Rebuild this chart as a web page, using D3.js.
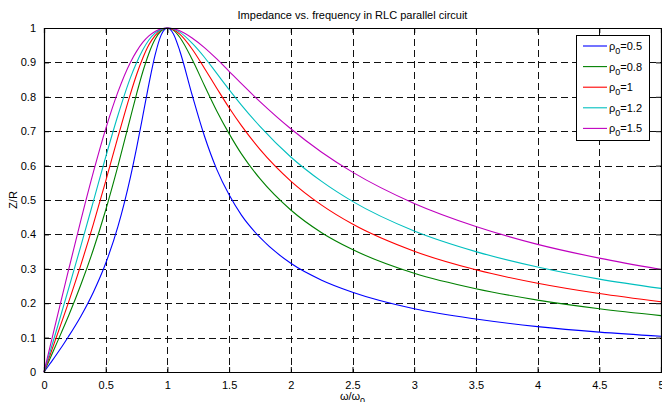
<!DOCTYPE html>
<html>
<head>
<meta charset="utf-8">
<script src="https://cdn.jsdelivr.net/npm/d3@7"></script>
<style>
  body { margin: 0; background: #fff; }
  text { font-family: "Liberation Sans", Arial, sans-serif; font-size: 11px; fill: #000; }
</style>
</head>
<body>
<div id="chart"></div>
<script>
// normalized frequency omega/omega0 sample points
var freq = [0, 0.05, 0.1, 0.2, 0.3, 0.4, 0.5, 0.6, 0.7, 0.75, 0.8, 0.85, 0.9, 0.95, 1,
  1.05, 1.1, 1.2, 1.3, 1.4, 1.5, 1.6, 1.75, 2, 2.25, 2.5, 3, 3.5, 4, 4.5, 5];

// Z/R
var rho05 = [0, 0.025, 0.050, 0.104, 0.163, 0.232, 0.316, 0.424, 0.566, 0.651, 0.743, 0.837, 0.921, 0.980, 1,
  0.982, 0.934, 0.806, 0.686, 0.589, 0.515, 0.456, 0.391, 0.316, 0.267, 0.232, 0.184, 0.154, 0.132, 0.116, 0.104];
var rho08 = [0, 0.040, 0.081, 0.164, 0.255, 0.356, 0.471, 0.600, 0.739, 0.808, 0.872, 0.926, 0.967, 0.992, 1,
  0.993, 0.973, 0.909, 0.833, 0.759, 0.693, 0.634, 0.562, 0.471, 0.405, 0.356, 0.287, 0.242, 0.209, 0.184, 0.164];
var rho10 = [0, 0.050, 0.101, 0.204, 0.313, 0.430, 0.555, 0.684, 0.808, 0.864, 0.912, 0.951, 0.978, 0.995, 1,
  0.995, 0.982, 0.939, 0.883, 0.825, 0.768, 0.716, 0.647, 0.555, 0.485, 0.430, 0.351, 0.297, 0.258, 0.228, 0.204];
var rho12 = [0, 0.060, 0.120, 0.243, 0.368, 0.496, 0.625, 0.747, 0.855, 0.899, 0.936, 0.965, 0.985, 0.996, 1,
  0.997, 0.988, 0.956, 0.915, 0.868, 0.821, 0.776, 0.714, 0.625, 0.554, 0.496, 0.410, 0.350, 0.305, 0.270, 0.243];
var rho15 = [0, 0.075, 0.150, 0.298, 0.443, 0.581, 0.707, 0.815, 0.900, 0.932, 0.958, 0.977, 0.990, 0.998, 1,
  0.998, 0.992, 0.971, 0.943, 0.910, 0.874, 0.838, 0.786, 0.707, 0.639, 0.581, 0.490, 0.423, 0.371, 0.331, 0.298];

var seriesValues = [rho05, rho08, rho10, rho12, rho15];
var seriesNames = ["0.5", "0.8", "1", "1.2", "1.5"];
var seriesColors = ["#0000ff", "#008000", "#ff0000", "#00bfbf", "#bf00bf"];

var xTicks = [0, 0.5, 1, 1.5, 2, 2.5, 3, 3.5, 4, 4.5, 5];
var yTicks = [0, 0.1, 0.2, 0.3, 0.4, 0.5, 0.6, 0.7, 0.8, 0.9, 1];

// svg size and plot box
var width = 662;
var height = 402;
var margin = { top: 28, right: 1, bottom: 30, left: 44 };
var chartWidth = width - margin.left - margin.right;
var chartHeight = height - margin.top - margin.bottom;

var svg = d3.select("#chart")
  .append("svg")
  .attr("width", width)
  .attr("height", height);

var chartGroup = svg.append("g")
  .attr("transform", `translate(${margin.left}, ${margin.top})`);

var xScale = d3.scaleLinear().domain([0, 5]).range([0, chartWidth]);
var yScale = d3.scaleLinear().domain([0, 1]).range([chartHeight, 0]);

// dashed grid
chartGroup.append("g")
  .selectAll("line")
  .data(xTicks.slice(1, -1))
  .enter()
  .append("line")
  .attr("x1", d => Math.round(xScale(d)) + 0.5)
  .attr("x2", d => Math.round(xScale(d)) + 0.5)
  .attr("y1", 0)
  .attr("y2", chartHeight)
  .attr("stroke", "#111")
  .attr("stroke-dasharray", "7,4");

chartGroup.append("g")
  .selectAll("line")
  .data(yTicks.slice(1, -1))
  .enter()
  .append("line")
  .attr("y1", d => Math.round(yScale(d)) + 0.5)
  .attr("y2", d => Math.round(yScale(d)) + 0.5)
  .attr("x1", 0)
  .attr("x2", chartWidth)
  .attr("stroke", "#111")
  .attr("stroke-dasharray", "7,4");

// curves
var line = d3.line()
  .x((d, i) => xScale(freq[i]))
  .y(d => yScale(d))
  .curve(d3.curveMonotoneX);

chartGroup.append("g")
  .selectAll("path")
  .data(seriesValues)
  .enter()
  .append("path")
  .attr("d", d => line(d))
  .attr("fill", "none")
  .attr("stroke", (d, i) => seriesColors[i])
  .attr("stroke-width", 1.1);

// axes, ticks pointing inward like matlab
var bottomAxis = d3.axisBottom(xScale).tickValues(xTicks).tickSize(-5).tickPadding(9).tickFormat(d3.format("~g"));
var topAxis = d3.axisTop(xScale).tickValues(xTicks).tickSize(-5).tickFormat("");
var leftAxis = d3.axisLeft(yScale).tickValues(yTicks).tickSize(-5).tickPadding(8).tickFormat(d3.format("~g"));
var rightAxis = d3.axisRight(yScale).tickValues(yTicks).tickSize(-5).tickFormat("");

function styleAxis(g) {
  g.selectAll("path").attr("stroke", "#000").attr("stroke-width", 1.2);
  g.selectAll("line").attr("stroke", "#000");
  g.selectAll("text").style("font-size", "11px").attr("fill", "#000");
}

chartGroup.append("g")
  .attr("transform", `translate(0, ${chartHeight})`)
  .call(bottomAxis)
  .call(styleAxis);

chartGroup.append("g")
  .call(topAxis)
  .call(styleAxis);

chartGroup.append("g")
  .call(leftAxis)
  .call(styleAxis);

chartGroup.append("g")
  .attr("transform", `translate(${chartWidth}, 0)`)
  .call(rightAxis)
  .call(styleAxis);

// remove outer tick caps on the domain path
chartGroup.selectAll(".domain")
  .attr("d", function() { return d3.select(this).attr("d").replace(/V-?\d+(\.\d+)?/g, m => m); });

// title
svg.append("text")
  .attr("x", margin.left + chartWidth / 2)
  .attr("y", 19)
  .attr("text-anchor", "middle")
  .text("Impedance vs. frequency in RLC parallel circuit");

// axis labels
var xLabel = svg.append("text")
  .attr("x", margin.left + chartWidth / 2)
  .attr("y", 400)
  .attr("text-anchor", "middle");
xLabel.append("tspan").text("ω/ω");
xLabel.append("tspan").attr("dy", 4).style("font-size", "9px").text("0");

svg.append("text")
  .attr("transform", `translate(17, ${margin.top + chartHeight / 2}) rotate(-90)`)
  .attr("text-anchor", "middle")
  .text("Z/R");

// legend
var legend = svg.append("g")
  .attr("transform", "translate(576, 35)");

legend.append("rect")
  .attr("x", 0.5)
  .attr("y", 0.5)
  .attr("width", 73)
  .attr("height", 105)
  .attr("fill", "#fff")
  .attr("stroke", "#000");

var rows = legend.selectAll(".row")
  .data(seriesNames)
  .enter()
  .append("g")
  .attr("class", "row")
  .attr("transform", (d, i) => `translate(0, ${11 + i * 20.6})`);

rows.append("line")
  .attr("x1", 7)
  .attr("x2", 31)
  .attr("y1", 0)
  .attr("y2", 0)
  .attr("stroke", (d, i) => seriesColors[i])
  .attr("stroke-width", 1.1);

var rowText = rows.append("text")
  .attr("x", 33)
  .attr("y", 4);
rowText.append("tspan").text("ρ");
rowText.append("tspan").attr("dy", 4).style("font-size", "9px").text("0");
rowText.append("tspan").attr("dy", -4).text(d => "=" + d);
</script>
</body>
</html>
